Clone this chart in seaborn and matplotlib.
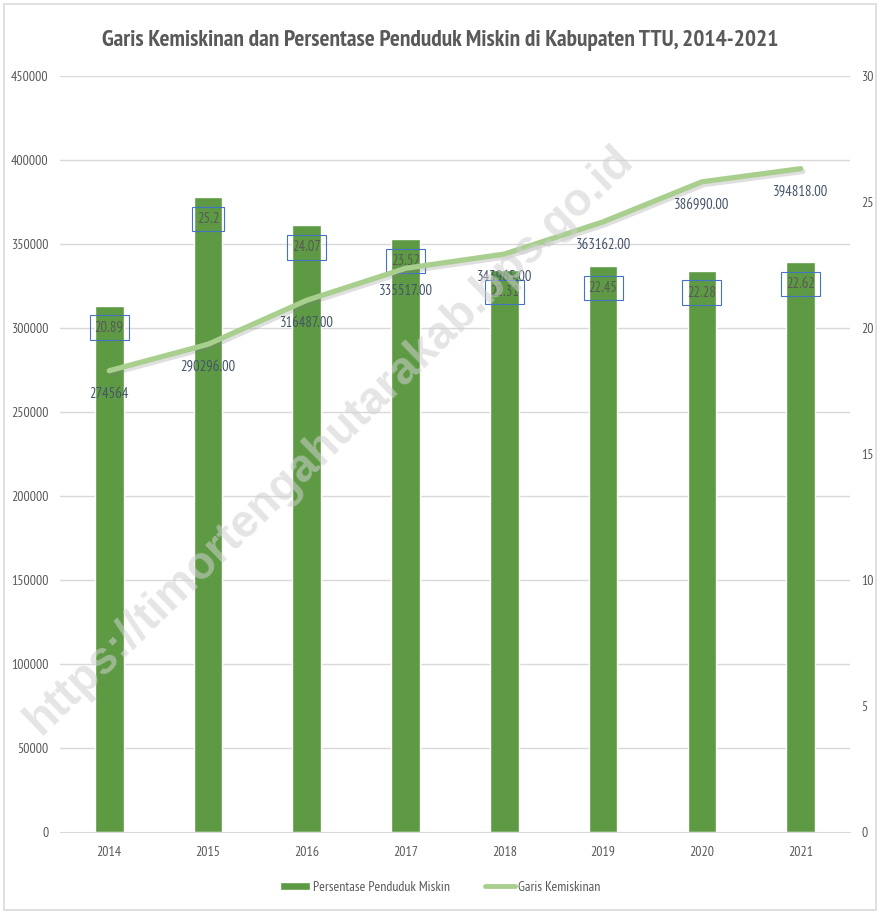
import numpy as np
import pandas as pd
import matplotlib
matplotlib.use("Agg")
import matplotlib.pyplot as plt
import matplotlib.patheffects as pe
from matplotlib.patches import Rectangle
from matplotlib.lines import Line2D
import seaborn as sns

years = ["2014", "2015", "2016", "2017", "2018", "2019", "2020", "2021"]
persen_miskin = [20.89, 25.2, 24.07, 23.52, 22.31, 22.45, 22.28, 22.62]
garis_kemiskinan = [274564, 290296, 316487, 335517, 343965, 363162, 386990, 394818]
gk_labels = ["274564", "290296.00", "316487.00", "335517.00", "343965.00",
             "363162.00", "386990.00", "394818.00"]
left_ticks = list(range(0, 450001, 50000))
right_ticks = list(range(0, 31, 5))

sns.set_style("white")
plt.rcParams["font.family"] = ["PT Sans Narrow", "DejaVu Sans"]

bar_col = "#5d9a43"
line_col = "#a8cf8d"
txt_col = "#595959"

df = pd.DataFrame({"tahun": years, "persen": persen_miskin, "gk": garis_kemiskinan})

fig = plt.figure(figsize=(8.8, 9.13), dpi=100)
fig.patches.append(Rectangle((0.004, 0.003), 0.992, 0.993, transform=fig.transFigure,
                             fill=False, ec="#d9d9d9", lw=1.2))

ax_bar = fig.add_axes([0.068, 0.0887, 0.898, 0.8281])
sns.barplot(data=df, x="tahun", y="persen", ax=ax_bar, color=bar_col,
            saturation=1, width=0.29, zorder=2)
ax_bar.set_ylim(0, 30)
ax_bar.set_xlim(-0.5, 7.5)
for v in left_ticks[1:]:
    ax_bar.axhline(v / 450000 * 30, color="#d9d9d9", lw=1, zorder=0)

for i, p in enumerate(persen_miskin):
    ax_bar.annotate(f"{p:g}", (i, p), xytext=(0, -22), textcoords="offset pixels",
                    ha="center", va="center", fontsize=10.5, color=txt_col, zorder=5,
                    bbox=dict(boxstyle="square,pad=0.35", fc="none", ec="#4472c4", lw=0.8))

ax_line = ax_bar.twinx()
sns.lineplot(x=np.arange(len(years)), y=garis_kemiskinan, ax=ax_line, color=line_col,
             lw=3.8, solid_capstyle="round",
             path_effects=[pe.SimpleLineShadow(offset=(1.5, -2), shadow_color="gray", alpha=0.25),
                           pe.Normal()])
ax_line.set_ylim(0, 450000)
ax_line.set_yticks(left_ticks)
ax_line.yaxis.set_ticks_position("left")
ax_bar.set_yticks(right_ticks)
ax_bar.yaxis.set_ticks_position("right")
for i, (v, s) in enumerate(zip(garis_kemiskinan, gk_labels)):
    ax_line.annotate(s, (i, v), xytext=(0, -23), textcoords="offset pixels",
                     ha="center", va="center", fontsize=10.5, color="#44546a")

for a in (ax_bar, ax_line):
    for s in a.spines.values():
        s.set_visible(False)
    a.tick_params(length=0, labelsize=10, labelcolor=txt_col, pad=8)
    a.set_xlabel("")
    a.set_ylabel("")
ax_bar.spines["bottom"].set_visible(True)
ax_bar.spines["bottom"].set_color("#d9d9d9")
ax_bar.tick_params(axis="x", pad=10)

fig.text(0.5, 0.956, "Garis Kemiskinan dan Persentase Penduduk Miskin di Kabupaten TTU, 2014-2021",
         ha="center", va="center", fontsize=16.8, fontweight="bold", color=txt_col)

handles = [Rectangle((0, 0), 1, 1, fc=bar_col),
           Line2D([0], [0], color=line_col, lw=3.5)]
fig.legend(handles, ["Persentase Penduduk Miskin", "Garis Kemiskinan"], loc="center",
           bbox_to_anchor=(0.5, 0.028), ncol=2, frameon=False, fontsize=10,
           labelcolor=txt_col, handlelength=2.2, handleheight=0.5, columnspacing=2.5,
           handletextpad=0.2)

fig.text(0.375, 0.518, "https://timortengahutarakab.bps.go.id", ha="center", va="center",
         rotation=44, fontsize=33, fontweight="bold", color="#d0d0d0", alpha=0.55,
         family="Liberation Sans", zorder=10)

fig.savefig("out.png", dpi=100)
